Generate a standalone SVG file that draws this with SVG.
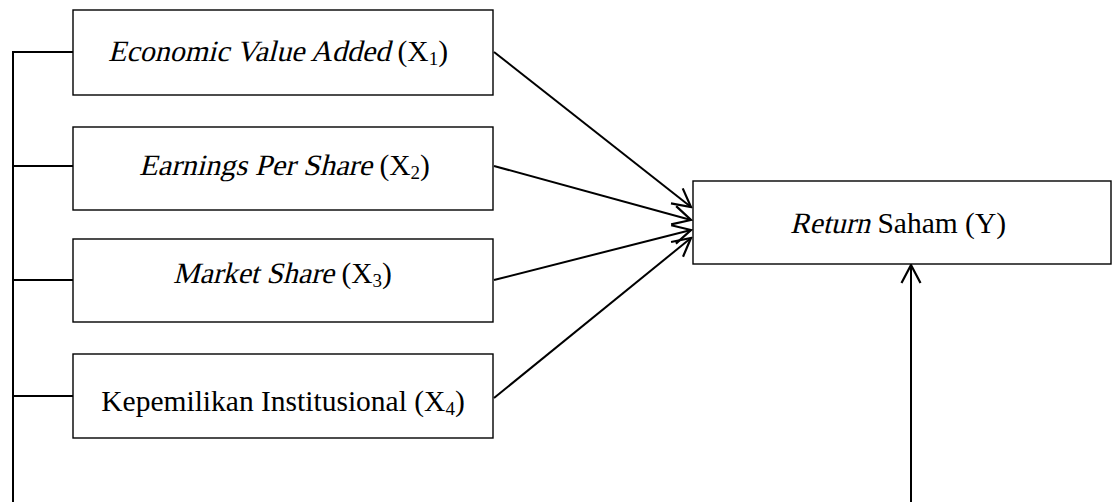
<svg xmlns="http://www.w3.org/2000/svg" width="1113" height="502" viewBox="0 0 1113 502">
  <style>
    .box { fill: #ffffff; stroke: #000000; stroke-width: 1.4; }
    .lbl { font-family: "Liberation Serif", "Times New Roman", serif; font-size: 29.5px; fill: #000000; }
    .sub { font-size: 19px; }
    .line { fill: none; stroke: #000000; stroke-width: 2; }
    .arrow { fill: none; stroke: #000000; stroke-width: 2; marker-end: url(#head); }
  </style>
  <defs>
    <marker id="head" markerUnits="userSpaceOnUse" markerWidth="24" markerHeight="24" viewBox="-22 -12 24 24" refX="0" refY="0" orient="auto">
      <path d="M -18,-9.5 L 0,0 L -18,9.5" fill="none" stroke="#000000" stroke-width="2.2"/>
    </marker>
  </defs>

  <g id="connectors">
    <polyline class="line" points="73,52 13,52 13,502"/>
    <line class="line" x1="13" y1="166" x2="73" y2="166"/>
    <line class="line" x1="13" y1="280" x2="73" y2="280"/>
    <line class="line" x1="13" y1="396" x2="73" y2="396"/>
    <line class="arrow" x1="494" y1="52" x2="691" y2="207"/>
    <line class="arrow" x1="494" y1="166" x2="691" y2="220"/>
    <line class="arrow" x1="494" y1="280" x2="691" y2="230"/>
    <line class="arrow" x1="494" y1="398" x2="691" y2="238"/>
    <line class="arrow" x1="911" y1="502" x2="911" y2="265"/>
  </g>

  <g id="node-x1">
    <rect class="box" x="73" y="10" width="420" height="85"/>
    <text class="lbl" transform="translate(108,61) skewX(-14)" x="0" y="0" textLength="282" lengthAdjust="spacingAndGlyphs">Economic Value Added</text>
    <text class="lbl" x="397.5" y="61">(X<tspan class="sub" dy="4">1</tspan><tspan dy="-4">)</tspan></text>
  </g>
  <g id="node-x2">
    <rect class="box" x="73" y="127" width="420" height="83"/>
    <text class="lbl" transform="translate(139,175) skewX(-14)" x="0" y="0" textLength="233" lengthAdjust="spacingAndGlyphs">Earnings Per Share</text>
    <text class="lbl" x="379.4" y="175">(X<tspan class="sub" dy="4">2</tspan><tspan dy="-4">)</tspan></text>
  </g>
  <g id="node-x3">
    <rect class="box" x="73" y="239" width="420" height="83"/>
    <text class="lbl" transform="translate(173,283) skewX(-14)" x="0" y="0" textLength="161" lengthAdjust="spacingAndGlyphs">Market Share</text>
    <text class="lbl" x="341.4" y="283">(X<tspan class="sub" dy="4">3</tspan><tspan dy="-4">)</tspan></text>
  </g>
  <g id="node-x4">
    <rect class="box" x="73" y="354" width="420" height="84"/>
    <text class="lbl" x="283" y="411" text-anchor="middle">Kepemilikan Institusional (X<tspan class="sub" dy="4">4</tspan><tspan dy="-4">)</tspan></text>
  </g>
  <g id="node-y">
    <rect class="box" x="693" y="181" width="418" height="83"/>
    <text class="lbl" transform="translate(790,233) skewX(-14)" x="0" y="0" textLength="80" lengthAdjust="spacingAndGlyphs">Return</text>
    <text class="lbl" x="877.4" y="233">Saham (Y)</text>
  </g>
</svg>
